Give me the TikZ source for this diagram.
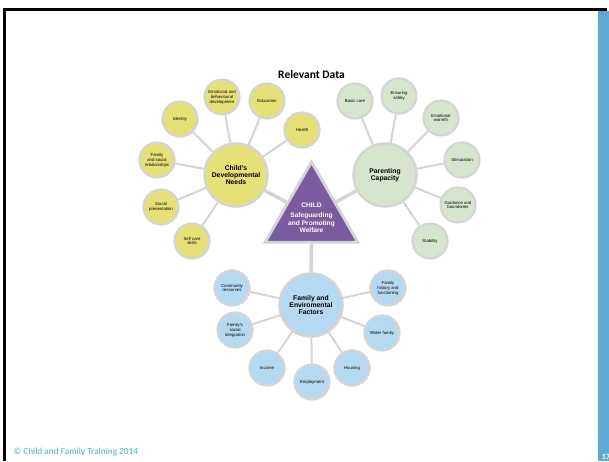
\documentclass[tikz,border=0pt]{standalone}
\usepackage{fontspec}
\setmainfont{Liberation Sans}
\newfontfamily\calfont{Carlito}
\usetikzlibrary{shapes.geometric}
\definecolor{needsyellow}{HTML}{E4E177}
\definecolor{parentgreen}{HTML}{D6E5CD}
\definecolor{familyblue}{HTML}{B5D9F1}
\definecolor{ringgray}{HTML}{D4D4D4}
\definecolor{childpurple}{HTML}{7B5B9F}
\definecolor{stripblue}{HTML}{5FA9D3}
\definecolor{footblue}{HTML}{40B4E5}
\begin{document}
\begin{tikzpicture}[x=1pt,y=-1pt,
    hub/.style={circle,draw=ringgray,line width=2.5pt,minimum size=63pt,inner sep=0pt,
      align=center,font=\fontsize{6.8}{7.2}\selectfont\bfseries},
    sat/.style={circle,draw=ringgray,line width=2.2pt,minimum size=35pt,inner sep=0pt,
      align=center,font=\fontsize{4.3}{4.9}\selectfont},
    spoke/.style={ringgray,line width=2pt},
    trunk/.style={ringgray,line width=3.5pt}]
      \useasboundingbox (0,0) rectangle (609,461) ;
      % frame and side strip
      \fill[stripblue] (598,11) rectangle (609,461) ;
      \draw[line width=3pt] (4.5,461) -- (4.5,9.5) -- (607,9.5) ;
      \node[text=white,font=\calfont\bfseries\fontsize{8}{8}\selectfont] (pagenum) at (606,457) {17} ;
      \node[font=\calfont\bfseries\fontsize{11.5}{12}\selectfont] (title) at (311.5,75) {Relevant Data} ;
      \node[anchor=west,text=footblue,font=\calfont\fontsize{9.3}{10}\selectfont] %
      (footer) at (10,452) {\textcopyright\ Child and Family Training 2014} ;
      % centre triangle
      \node[regular polygon,regular polygon sides=3,minimum size=107pt,inner sep=0pt,
        fill=childpurple,draw=ringgray,line width=2.8pt] (child) at (311.5,215.5) {} ;
      \node[text=white,align=center,font=\fontsize{6.6}{7.4}\selectfont\bfseries] %
      (childtext) at (311.5,218) {CHILD\\[2.5pt]Safeguarding\\and Promoting\\Welfare} ;
      % hubs
      \node[hub,fill=needsyellow] (needs) at (236,175) {Child's\\Developmental\\Needs} ;
      \node[hub,fill=parentgreen] (parenting) at (385,175) {Parenting\\Capacity} ;
      \node[hub,fill=familyblue] (family) at (311,305) {Family and\\Enviromental\\Factors} ;
      \draw[trunk] (needs) -- (child) ;
      \draw[trunk] (parenting) -- (child) ;
      \draw[trunk] (family) -- (child) ;
      % child's developmental needs
      \node[sat,fill=needsyellow] (identity) at (180,119) {Identity} ;
      \node[sat,fill=needsyellow] (emotional) at (222,97) {Emotional and\\behavioural\\development} ;
      \node[sat,fill=needsyellow] (education) at (267,101) {Education} ;
      \node[sat,fill=needsyellow] (health) at (302,130) {Health} ;
      \node[sat,fill=needsyellow] (relations) at (157,160) {Family\\and social\\relationships} ;
      \node[sat,fill=needsyellow] (presentation) at (161,207) {Social\\presentation} ;
      \node[sat,fill=needsyellow] (selfcare) at (192,241) {Self care\\skills} ;
      \draw[spoke] (needs) -- (identity) ;
      \draw[spoke] (needs) -- (emotional) ;
      \draw[spoke] (needs) -- (education) ;
      \draw[spoke] (needs) -- (health) ;
      \draw[spoke] (needs) -- (relations) ;
      \draw[spoke] (needs) -- (presentation) ;
      \draw[spoke] (needs) -- (selfcare) ;
      % parenting capacity
      \node[sat,fill=parentgreen] (basiccare) at (355,101) {Basic care} ;
      \node[sat,fill=parentgreen] (safety) at (399,96) {Ensuring\\safety} ;
      \node[sat,fill=parentgreen] (warmth) at (441,118) {Emotional\\warmth} ;
      \node[sat,fill=parentgreen] (stimulation) at (462,160) {Stimulation} ;
      \node[sat,fill=parentgreen] (guidance) at (458,205) {Guidance and\\boundaries} ;
      \node[sat,fill=parentgreen] (stability) at (430,241) {Stability} ;
      \draw[spoke] (parenting) -- (basiccare) ;
      \draw[spoke] (parenting) -- (safety) ;
      \draw[spoke] (parenting) -- (warmth) ;
      \draw[spoke] (parenting) -- (stimulation) ;
      \draw[spoke] (parenting) -- (guidance) ;
      \draw[spoke] (parenting) -- (stability) ;
      % family and environmental factors
      \node[sat,fill=familyblue] (community) at (232,288) {Community\\resources} ;
      \node[sat,fill=familyblue] (history) at (388,288) {Family\\history and\\functioning} ;
      \node[sat,fill=familyblue] (integration) at (235,330) {Family's\\social\\integration} ;
      \node[sat,fill=familyblue] (wider) at (382,333) {Wider family} ;
      \node[sat,fill=familyblue] (income) at (267,368) {Income} ;
      \node[sat,fill=familyblue] (housing) at (352,368) {Housing} ;
      \node[sat,fill=familyblue] (employment) at (312,382) {Employment} ;
      \draw[spoke] (family) -- (community) ;
      \draw[spoke] (family) -- (history) ;
      \draw[spoke] (family) -- (integration) ;
      \draw[spoke] (family) -- (wider) ;
      \draw[spoke] (family) -- (income) ;
      \draw[spoke] (family) -- (housing) ;
      \draw[spoke] (family) -- (employment) ;
    \end{tikzpicture}
\end{document}
